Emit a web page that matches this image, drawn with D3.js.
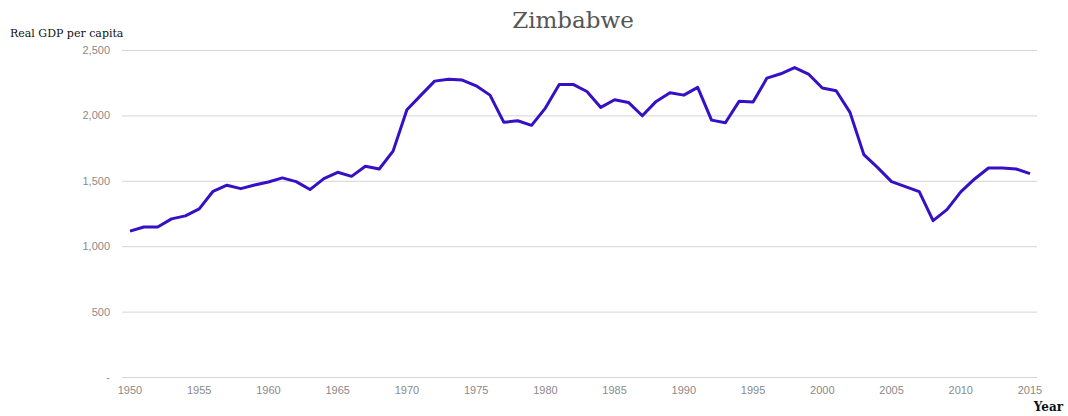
<!DOCTYPE html>
<html>
<head>
<meta charset="utf-8">
<script src="https://cdn.jsdelivr.net/npm/d3@7"></script>
<style>
  body { margin: 0; background: #fff; }
</style>
</head>
<body>
<div id="chart"></div>
<script>
// Data
const years = d3.range(1950, 2016);
const gdp = [
  1115, 1147, 1147, 1209, 1232, 1285, 1420, 1466, 1440, 1468,
  1491, 1522, 1494, 1433, 1517, 1565, 1534, 1611, 1590, 1727,
  2043, 2153, 2262, 2277, 2270, 2226, 2155, 1947, 1959, 1924,
  2056, 2237, 2237, 2183, 2061, 2120, 2099, 1997, 2107, 2173,
  2155, 2214, 1964, 1944, 2109, 2102, 2285, 2318, 2366, 2316,
  2209, 2188, 2023, 1700, 1601, 1494, 1456, 1417, 1196, 1280,
  1415, 1514, 1598, 1598, 1590, 1555
];
const yTicks = [0, 500, 1000, 1500, 2000, 2500];
const xTicks = d3.range(1950, 2016, 5);

const width = 1068;
const height = 416;
const margin = { top: 50, right: 38, bottom: 39, left: 130 };

const svg = d3.select("#chart")
    .append("svg")
    .attr("width", width)
    .attr("height", height);

const x = d3.scaleLinear()
    .domain([1950, 2015])
    .range([margin.left, width - margin.right]);

const y = d3.scaleLinear()
    .domain([0, 2500])
    .range([height - margin.bottom, margin.top]);

// Gridlines
svg.append("g")
    .selectAll("line")
    .data(yTicks)
    .join("line")
    .attr("x1", 122)
    .attr("x2", 1037)
    .attr("y1", d => y(d) + 0.5)
    .attr("y2", d => y(d) + 0.5)
    .attr("stroke", "#d4d4d4")
    .attr("stroke-width", 1);

// Y tick labels
const fmt = d3.format(",");
svg.append("g")
    .selectAll("text")
    .data(yTicks)
    .join("text")
    .attr("x", 110)
    .attr("y", d => y(d) + 4)
    .attr("text-anchor", "end")
    .attr("font-family", "Liberation Sans, Arial, sans-serif")
    .attr("font-size", 11)
    .attr("fill", "#8a8a8a")
    .text(d => d === 0 ? "-" : fmt(d));

// X tick labels
svg.append("g")
    .selectAll("text")
    .data(xTicks)
    .join("text")
    .attr("x", d => x(d))
    .attr("y", 394)
    .attr("text-anchor", "middle")
    .attr("font-family", "Liberation Sans, Arial, sans-serif")
    .attr("font-size", 11)
    .attr("fill", "#8a8a8a")
    .text(d => d);

// Line
const line = d3.line()
    .x((d, i) => x(years[i]))
    .y(d => y(d));

svg.append("path")
    .datum(gdp)
    .attr("fill", "none")
    .attr("stroke", "#3510c4")
    .attr("stroke-width", 3)
    .attr("stroke-linejoin", "round")
    .attr("d", line);

// Title and axis labels
svg.append("text")
    .attr("x", 573)
    .attr("y", 28)
    .attr("text-anchor", "middle")
    .attr("font-family", "DejaVu Serif, serif")
    .attr("font-size", 23)
    .attr("fill", "#555")
    .text("Zimbabwe");

svg.append("text")
    .attr("x", 10)
    .attr("y", 37)
    .attr("font-family", "DejaVu Serif, serif")
    .attr("font-size", 11)
    .attr("fill", "#111")
    .text("Real GDP per capita");

svg.append("text")
    .attr("x", 1063)
    .attr("y", 411)
    .attr("text-anchor", "end")
    .attr("font-family", "DejaVu Serif, serif")
    .attr("font-size", 12)
    .attr("font-weight", "bold")
    .attr("fill", "#111")
    .text("Year");
</script>
</body>
</html>
